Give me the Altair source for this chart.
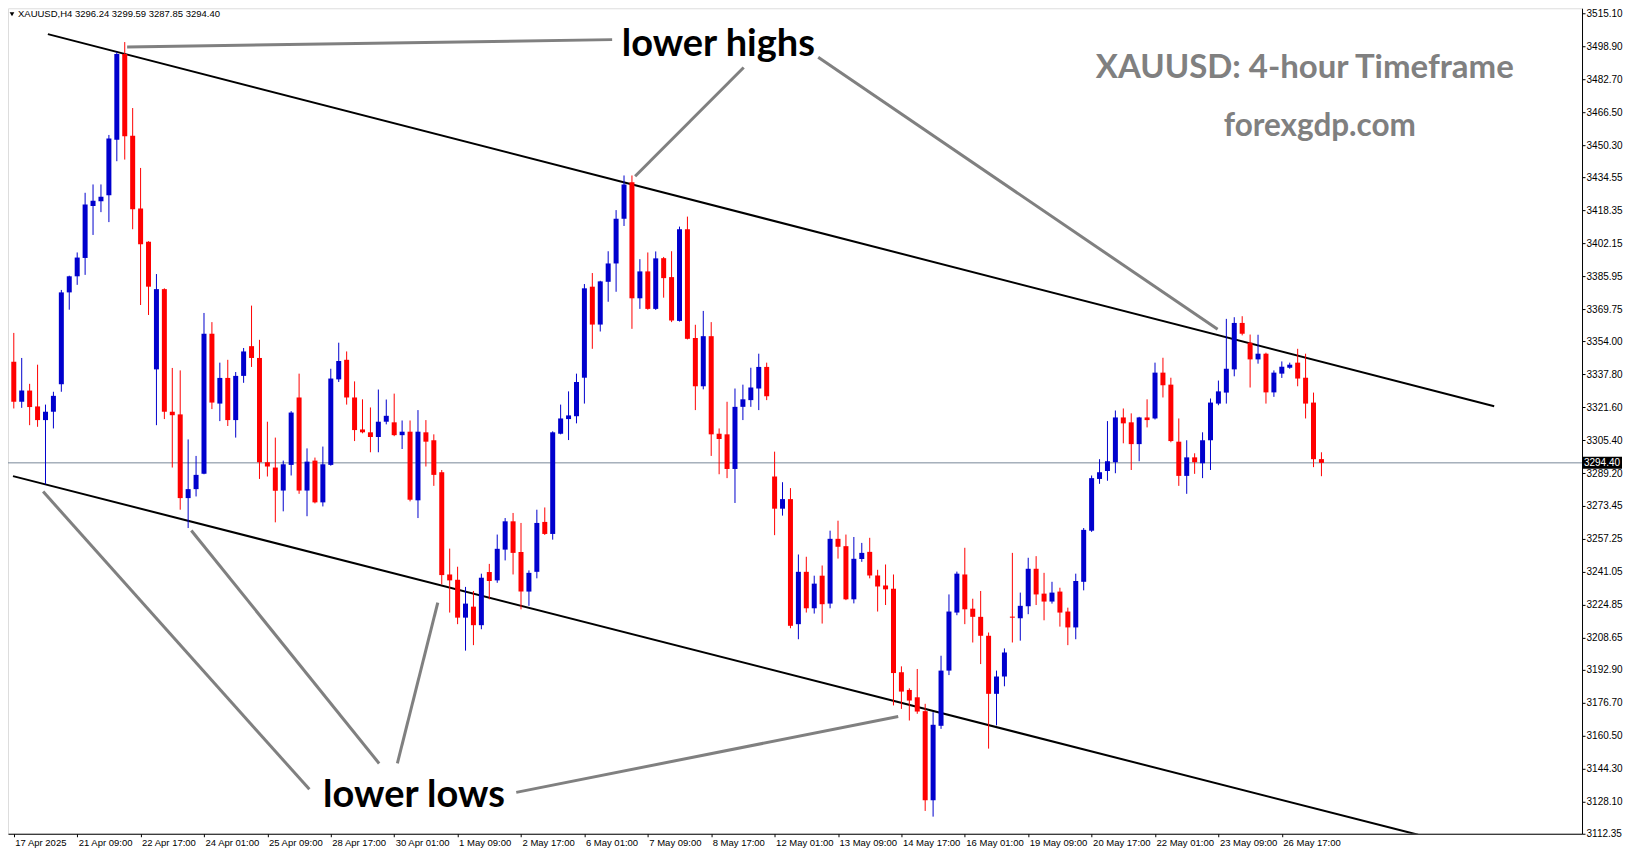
import altair as alt
import pandas as pd

# ---------------- data ----------------
opens = [3344.0, 3324.4, 3329.9, 3322.1, 3315.4, 3319.5, 3333.0, 3378.1, 3386.0, 3395.0,
         3420.5, 3422.8, 3425.8, 3453.1, 3495.1, 3455.0, 3419.3, 3402.9, 3340.3, 3379.7,
         3319.5, 3318.2, 3277.1, 3281.5, 3289.0, 3357.8, 3323.5, 3336.1, 3315.4, 3337.1,
         3351.7, 3345.9, 3294.7, 3292.1, 3280.8, 3293.4, 3326.5, 3280.8, 3295.5, 3275.0,
         3293.4, 3335.4, 3345.0, 3326.5, 3310.8, 3309.4, 3307.1, 3314.6, 3314.3, 3308.0,
         3309.7, 3276.0, 3309.4, 3305.5, 3289.8, 3239.6, 3237.0, 3218.4, 3223.8, 3214.7,
         3240.8, 3236.7, 3251.8, 3265.7, 3250.6, 3231.2, 3240.9, 3265.4, 3259.5, 3308.7,
         3315.9, 3317.3, 3336.2, 3380.9, 3362.3, 3383.3, 3392.3, 3414.3, 3432.2, 3375.2,
         3388.4, 3370.0, 3394.9, 3385.6, 3364.1, 3409.1, 3355.7, 3332.0, 3356.6, 3308.7,
         3308.4, 3291.4, 3321.9, 3325.2, 3330.9, 3341.5, 3287.7, 3271.9, 3276.6, 3215.2,
         3240.9, 3223.0, 3239.0, 3225.3, 3257.1, 3253.5, 3227.4, 3247.2, 3250.7, 3239.1,
         3234.2, 3232.6, 3191.6, 3182.9, 3179.3, 3172.5, 3128.8, 3165.3, 3192.4, 3220.9,
         3239.6, 3222.8, 3218.8, 3209.5, 3181.0, 3189.5, 3218.9, 3218.1, 3224.0, 3242.4,
         3230.2, 3226.3, 3231.2, 3221.4, 3213.6, 3236.0, 3261.1, 3286.5, 3290.4, 3294.7,
         3316.7, 3314.3, 3303.6, 3316.7, 3316.2, 3338.7, 3332.8, 3304.8, 3288.0, 3297.1,
         3294.2, 3305.5, 3323.5, 3328.9, 3340.3, 3363.1, 3353.4, 3345.2, 3348.0, 3329.0,
         3338.2, 3341.1, 3343.6, 3336.2, 3324.0, 3296.24]
highs = [3358.2, 3345.9, 3333.2, 3342.6, 3323.0, 3329.3, 3379.3, 3386.3, 3397.7, 3427.0,
         3431.1, 3431.1, 3455.4, 3496.1, 3501.0, 3468.6, 3439.2, 3403.2, 3387.1, 3380.1,
         3341.0, 3339.8, 3305.9, 3297.8, 3368.0, 3363.5, 3343.6, 3345.0, 3339.0, 3350.8,
         3371.6, 3354.8, 3314.6, 3306.8, 3295.5, 3319.8, 3338.2, 3301.5, 3297.0, 3302.4,
         3340.6, 3353.4, 3349.1, 3334.4, 3325.6, 3321.6, 3330.4, 3325.5, 3328.4, 3315.2,
         3315.2, 3320.3, 3315.4, 3308.4, 3290.9, 3252.3, 3243.4, 3233.5, 3231.5, 3240.0,
         3244.8, 3259.2, 3267.3, 3269.8, 3264.9, 3241.6, 3271.4, 3272.5, 3309.9, 3323.0,
         3329.5, 3338.2, 3382.2, 3387.6, 3383.8, 3398.3, 3418.5, 3435.5, 3435.5, 3394.4,
         3397.7, 3398.2, 3395.5, 3398.3, 3410.4, 3415.3, 3362.2, 3369.0, 3363.5, 3311.3,
         3324.4, 3330.9, 3332.8, 3341.1, 3348.0, 3343.6, 3299.9, 3284.9, 3282.0, 3249.4,
         3248.3, 3239.0, 3244.0, 3261.1, 3266.0, 3259.2, 3258.0, 3255.1, 3257.6, 3241.9,
         3244.5, 3239.6, 3194.5, 3183.7, 3193.2, 3176.1, 3172.0, 3199.7, 3229.8, 3241.0,
         3252.7, 3227.7, 3231.5, 3211.1, 3192.4, 3203.3, 3250.2, 3230.7, 3247.8, 3248.6,
         3240.4, 3236.0, 3233.1, 3223.3, 3240.0, 3262.4, 3288.2, 3296.2, 3314.9, 3320.1,
         3321.1, 3318.7, 3317.0, 3325.6, 3343.6, 3346.0, 3336.2, 3316.2, 3305.5, 3299.1,
         3309.4, 3326.0, 3334.8, 3365.1, 3365.9, 3366.4, 3357.4, 3357.3, 3348.5, 3339.8,
         3344.2, 3343.6, 3350.4, 3348.0, 3328.9, 3299.59]
lows = [3321.1, 3321.4, 3312.9, 3312.1, 3283.9, 3311.3, 3329.3, 3369.6, 3381.8, 3386.7,
        3406.3, 3417.5, 3412.6, 3442.5, 3443.3, 3409.1, 3371.9, 3367.0, 3312.9, 3315.9,
        3292.1, 3271.4, 3262.4, 3277.9, 3288.8, 3320.8, 3314.9, 3312.5, 3306.8, 3333.7,
        3341.5, 3286.5, 3287.7, 3265.2, 3270.6, 3288.2, 3279.2, 3268.2, 3274.5, 3273.0,
        3293.0, 3334.1, 3323.0, 3305.1, 3308.9, 3299.6, 3299.6, 3313.3, 3307.5, 3301.2,
        3275.5, 3267.3, 3292.6, 3283.1, 3234.7, 3220.9, 3215.2, 3202.2, 3204.9, 3212.7,
        3227.4, 3235.5, 3246.5, 3239.6, 3222.5, 3224.2, 3237.7, 3259.0, 3256.7, 3308.4,
        3305.6, 3313.8, 3323.5, 3350.4, 3358.9, 3373.5, 3378.4, 3410.7, 3360.2, 3370.0,
        3369.6, 3369.5, 3375.5, 3363.5, 3363.8, 3355.0, 3320.3, 3330.5, 3297.8, 3288.8,
        3286.9, 3274.7, 3315.4, 3321.9, 3320.3, 3325.2, 3258.9, 3268.5, 3213.2, 3207.8,
        3220.9, 3220.4, 3215.5, 3223.0, 3247.4, 3227.0, 3225.4, 3245.8, 3237.7, 3221.4,
        3224.6, 3175.3, 3173.6, 3167.9, 3171.2, 3123.5, 3120.7, 3163.8, 3190.2, 3219.6,
        3215.2, 3206.2, 3195.6, 3154.1, 3165.5, 3184.7, 3206.2, 3207.1, 3220.1, 3224.6,
        3217.1, 3225.3, 3214.0, 3204.9, 3207.8, 3231.8, 3260.5, 3284.1, 3285.6, 3289.3,
        3304.0, 3290.9, 3295.2, 3311.8, 3315.7, 3326.5, 3304.5, 3283.1, 3279.2, 3289.0,
        3286.9, 3290.9, 3322.7, 3323.5, 3336.9, 3357.0, 3331.4, 3343.1, 3323.5, 3326.8,
        3336.1, 3340.6, 3332.0, 3316.2, 3292.3, 3287.85]
closes = [3324.4, 3329.9, 3321.8, 3315.4, 3319.5, 3327.3, 3378.1, 3386.0, 3395.2, 3421.3,
          3423.1, 3425.1, 3453.6, 3495.1, 3454.7, 3418.9, 3401.7, 3380.9, 3379.7, 3319.5,
          3317.8, 3277.1, 3281.5, 3288.5, 3357.8, 3324.0, 3336.1, 3315.4, 3337.1, 3349.1,
          3345.9, 3294.7, 3292.6, 3280.7, 3293.7, 3319.1, 3280.8, 3295.0, 3275.0, 3293.7,
          3335.8, 3344.4, 3326.5, 3310.5, 3309.4, 3307.1, 3314.6, 3317.5, 3308.0, 3309.7,
          3276.3, 3309.7, 3304.8, 3288.5, 3239.3, 3236.7, 3218.4, 3225.3, 3214.7, 3238.0,
          3236.4, 3252.2, 3265.7, 3250.2, 3231.2, 3240.4, 3264.9, 3259.5, 3309.4, 3316.2,
          3317.7, 3334.1, 3380.1, 3362.3, 3383.5, 3392.3, 3414.3, 3431.1, 3375.2, 3388.4,
          3370.0, 3394.8, 3385.1, 3364.3, 3409.1, 3355.3, 3332.0, 3356.6, 3308.4, 3306.1,
          3291.4, 3321.9, 3325.6, 3331.4, 3341.5, 3327.1, 3271.9, 3276.6, 3214.4, 3240.9,
          3223.0, 3235.1, 3225.0, 3257.1, 3253.2, 3227.4, 3247.3, 3250.2, 3239.1, 3233.7,
          3232.3, 3191.2, 3182.1, 3177.7, 3172.3, 3128.8, 3165.8, 3192.4, 3221.4, 3240.0,
          3222.5, 3218.8, 3209.5, 3181.0, 3189.5, 3201.3, 3218.4, 3224.2, 3242.4, 3229.8,
          3226.3, 3230.7, 3220.9, 3213.6, 3236.4, 3261.5, 3286.9, 3289.8, 3295.2, 3316.7,
          3313.8, 3303.6, 3316.7, 3315.4, 3338.7, 3332.5, 3305.1, 3288.0, 3297.1, 3294.7,
          3305.5, 3324.0, 3329.5, 3340.6, 3363.1, 3357.8, 3345.2, 3348.0, 3329.0, 3338.7,
          3341.6, 3342.6, 3335.8, 3323.5, 3296.2, 3294.40]

time_labels = ["17 Apr 2025", "21 Apr 09:00", "22 Apr 17:00", "24 Apr 01:00", "25 Apr 09:00",
               "28 Apr 17:00", "30 Apr 01:00", "1 May 09:00", "2 May 17:00", "6 May 01:00",
               "7 May 09:00", "8 May 17:00", "12 May 01:00", "13 May 09:00", "14 May 17:00",
               "16 May 01:00", "19 May 09:00", "20 May 17:00", "22 May 01:00", "23 May 09:00",
               "26 May 17:00"]
bars_per_label = 8

price_ticks = [3515.10, 3498.90, 3482.70, 3466.50, 3450.30, 3434.55, 3418.35, 3402.15,
               3385.95, 3369.75, 3354.00, 3337.80, 3321.60, 3305.40, 3289.20, 3273.45,
               3257.25, 3241.05, 3224.85, 3208.65, 3192.90, 3176.70, 3160.50, 3144.30,
               3128.10, 3112.35]

last_price = 3294.40
header_text = "XAUUSD,H4  3296.24 3299.59 3287.85 3294.40"

# channel lines (bar index, price)
channel_x1 = [5.3, 0.9]
channel_y1 = [3504.9, 3287.9]
channel_x2 = [187.8, 178.2]
channel_y2 = [3322.2, 3111.8]

# annotation pointer lines (bar index, price)
pointer_x1 = [15.3, 93.1, 102.5, 38.3, 47.1, 49.4, 64.4]
pointer_y1 = [3498.6, 3488.5, 3493.5, 3134.1, 3146.8, 3146.8, 3132.6]
pointer_x2 = [76.5, 79.4, 152.9, 4.7, 23.4, 54.5, 112.6]
pointer_y2 = [3502.2, 3435.1, 3360.0, 3280.3, 3261.2, 3225.8, 3169.9]

label_texts = ["lower highs", "lower lows"]
label_x = [89.9, 51.5]
label_y = [3499.7, 3130.6]

title_texts = ["XAUUSD: 4-hour Timeframe"]
title_x = [163.9]
title_y = [3488.5]
site_texts = ["forexgdp.com"]
site_x = [165.8]
site_y = [3459.5]

# ---------------- chart ----------------
W, H = 1575, 826
BLUE, RED = "#0000CD", "#FF0000"
AXIS_FONT = "Liberation Sans"

bars = list(range(1, len(opens) + 1))
df = pd.DataFrame({"bar": bars, "open": opens, "high": highs, "low": lows, "close": closes})
df["dir"] = ["up" if c >= o else "down" for o, c in zip(opens, closes)]

xs = alt.Scale(domain=[0.9, 198.25], nice=False, zero=False)
ys = alt.Scale(domain=[3112.3, 3517.6], nice=False, zero=False)
cs = alt.Scale(domain=["up", "down"], range=[BLUE, RED])

label_js = "[" + ",".join("'" + t + "'" for t in time_labels) + "]"
x_axis = alt.Axis(
    values=[1 + bars_per_label * i for i in range(len(time_labels))],
    labelExpr=label_js + "[round((datum.value-1)/" + str(bars_per_label) + ")]",
    title=None, grid=False, orient="bottom",
    domainColor="black", tickColor="black", tickSize=3,
    labelAlign="left", labelBaseline="top", labelPadding=1, labelOffset=1,
    labelFont=AXIS_FONT, labelFontSize=9.5, labelColor="black",
    labelOverlap=False, labelFlush=False, labelBound=False,
)
y_axis = alt.Axis(
    values=price_ticks, format=".2f", title=None, grid=False, orient="right",
    domainColor="black", tickColor="black", tickSize=3, labelPadding=1,
    labelFont=AXIS_FONT, labelFontSize=10, labelColor="black",
    labelOverlap=False, labelFlush=False, labelBound=False,
)

X = lambda f: alt.X(f, type="quantitative", scale=xs, axis=x_axis)
Y = lambda f: alt.Y(f, type="quantitative", scale=ys, axis=y_axis)

base = alt.Chart(df)

last_line = alt.Chart(pd.DataFrame({"p": [last_price]})).mark_rule(
    color="#778899", strokeWidth=1, clip=True
).encode(y=Y("p"))

wicks = base.mark_rule(strokeWidth=1, clip=True).encode(
    x=X("bar"), y=Y("low"), y2="high",
    color=alt.Color("dir:N", scale=cs, legend=None),
)
bodies = base.mark_bar(size=5, clip=True).encode(
    x=X("bar"), y=Y("open"), y2="close",
    color=alt.Color("dir:N", scale=cs, legend=None),
)

chan_df = pd.DataFrame({"x1": channel_x1, "y1": channel_y1, "x2": channel_x2, "y2": channel_y2})
channels = alt.Chart(chan_df).mark_rule(color="black", strokeWidth=2, clip=True).encode(
    x=X("x1"), y=Y("y1"), x2="x2", y2="y2"
)

ptr_df = pd.DataFrame({"x1": pointer_x1, "y1": pointer_y1, "x2": pointer_x2, "y2": pointer_y2})
pointers = alt.Chart(ptr_df).mark_rule(color="#808080", strokeWidth=3, clip=True).encode(
    x=X("x1"), y=Y("y1"), x2="x2", y2="y2"
)

lab_df = pd.DataFrame({"t": label_texts, "x": label_x, "y": label_y})
labels = alt.Chart(lab_df).mark_text(
    font="Lato", fontWeight="bold", fontSize=38, color="black",
    align="center", baseline="middle"
).encode(x=X("x"), y=Y("y"), text="t:N")

tit_df = pd.DataFrame({"t": title_texts, "x": title_x, "y": title_y})
titles = alt.Chart(tit_df).mark_text(
    font="Lato", fontWeight="bold", fontSize=33, color="#808080",
    align="center", baseline="middle"
).encode(x=X("x"), y=Y("y"), text="t:N")

site_df = pd.DataFrame({"t": site_texts, "x": site_x, "y": site_y})
site = alt.Chart(site_df).mark_text(
    font="Lato", fontWeight="bold", fontSize=31.5, color="#808080",
    align="center", baseline="middle"
).encode(x=X("x"), y=Y("y"), text="t:N")

header = alt.Chart(pd.DataFrame({"t": [header_text]})).mark_text(
    font=AXIS_FONT, fontSize=9.5, color="black", align="left", baseline="top"
).encode(x=alt.value(10), y=alt.value(1), text="t:N")

header_tri = alt.Chart(pd.DataFrame({"t": [1]})).mark_point(
    shape="triangle-down", filled=True, color="black", size=22, opacity=1
).encode(x=alt.value(4), y=alt.value(6))

price_df = pd.DataFrame({"p": [last_price], "t": ["%.2f" % last_price]})
price_box = alt.Chart(price_df).mark_point(
    shape="M-1,-0.3H1V0.3H-1Z", filled=True, color="black", size=1600, opacity=1
).encode(x=alt.value(W + 20), y=Y("p"))
price_txt = alt.Chart(price_df).mark_text(
    font=AXIS_FONT, fontSize=10, color="white", align="center", baseline="middle"
).encode(x=alt.value(W + 20), y=Y("p"), text="t:N")

chart = alt.layer(
    last_line, channels, wicks, bodies, pointers, labels, titles, site,
    header, header_tri, price_box, price_txt
).properties(
    width=W, height=H, padding={"left": 0, "top": 0, "right": 0, "bottom": 0}
).configure_view(
    stroke="black", strokeWidth=1
).configure(background="white")

chart.save("out.html", embed_options={"renderer": "svg", "actions": False})
